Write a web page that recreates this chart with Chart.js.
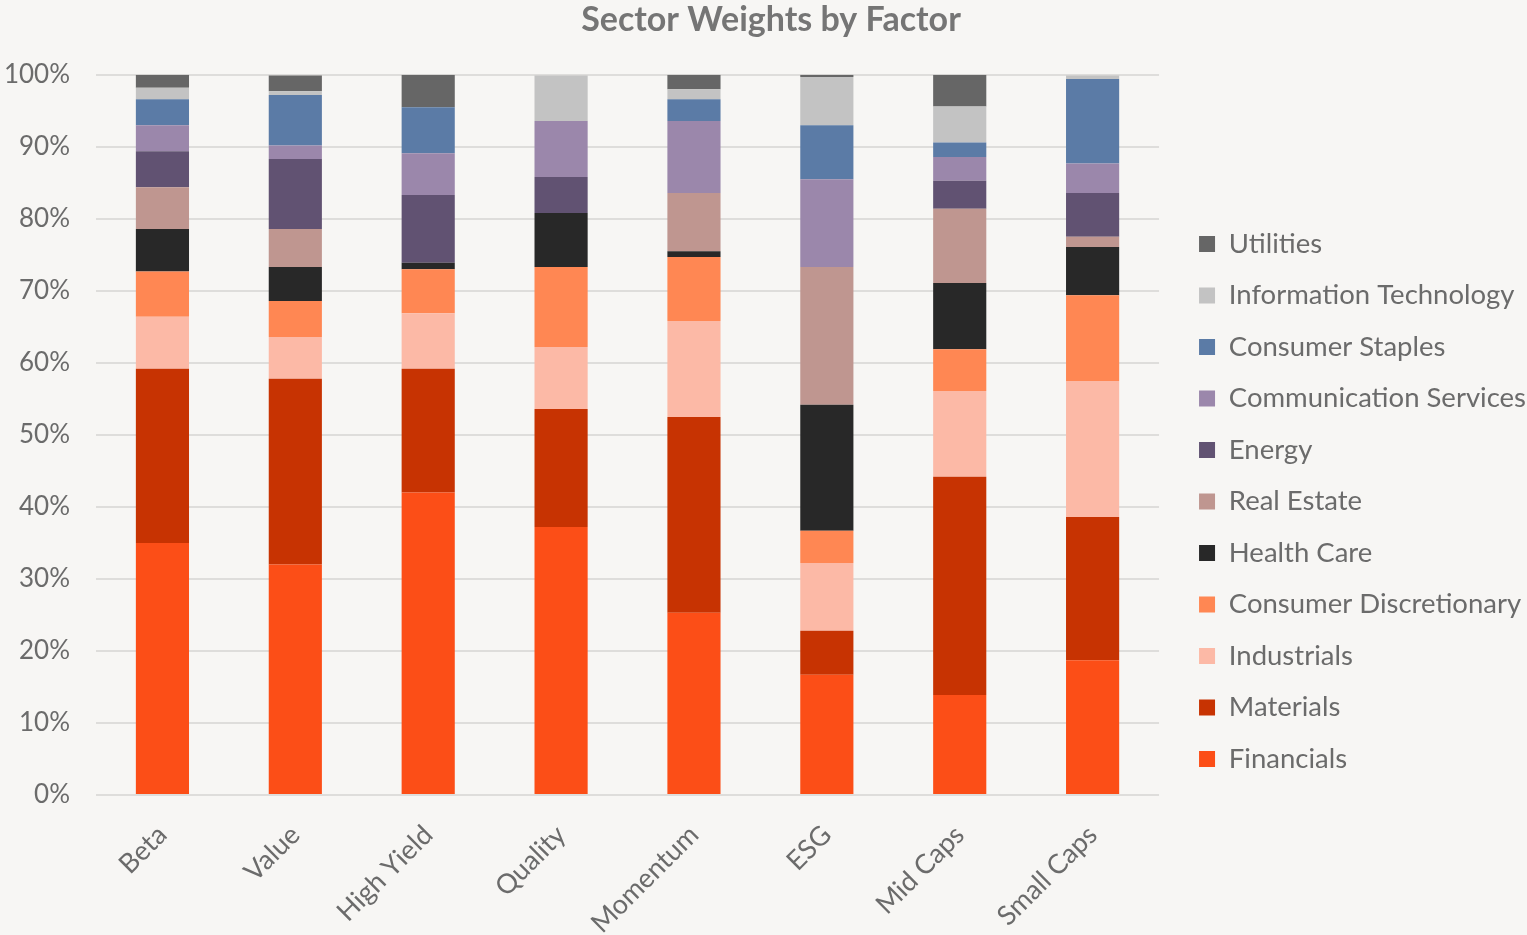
<!DOCTYPE html>
<html>
<head>
<meta charset="utf-8">
<title>Sector Weights by Factor</title>
<script src="https://cdn.jsdelivr.net/npm/chart.js@4/dist/chart.umd.min.js"></script>
<style>
  html, body { margin: 0; padding: 0; background: #f7f6f4; }
  #wrap { width: 1527px; height: 935px; position: relative; }
</style>
</head>
<body>
<div id="wrap"><canvas id="sectorWeights"></canvas></div>
<script>
// factors on the x axis
const factors = ["Beta", "Value", "High Yield", "Quality", "Momentum", "ESG", "Mid Caps", "Small Caps"];

// sector weights in %, bottom of the stack first
const financials    = [35.0, 32.0, 42.0, 37.2, 25.3, 16.7, 13.9, 18.7];
const materials     = [24.2, 25.8, 17.2, 16.4, 27.2,  6.1, 30.3, 19.9];
const industrials   = [ 7.2,  5.8,  7.7,  8.6, 13.3,  9.4, 11.9, 18.9];
const consDiscr     = [ 6.3,  5.0,  6.1, 11.1,  8.9,  4.5,  5.8, 11.9];
const healthCare    = [ 5.9,  4.7,  0.9,  7.5,  0.8, 17.5,  9.2,  6.7];
const realEstate    = [ 5.8,  5.3,  0.0,  0.0,  8.1, 19.1, 10.3,  1.4];
const energy        = [ 5.0,  9.7,  9.4,  5.0,  0.0,  0.0,  3.9,  6.1];
const commServices  = [ 3.6,  1.9,  5.8,  7.8, 10.0, 12.2,  3.3,  4.1];
const consStaples   = [ 3.6,  7.0,  6.4,  0.0,  3.0,  7.5,  2.0, 11.7];
const infoTech      = [ 1.6,  0.5,  0.0,  6.3,  1.4,  6.7,  5.0,  0.5];
const utilities     = [ 1.8,  2.2,  4.5,  0.0,  2.0,  0.3,  4.4,  0.0];

const yTicks = [0, 10, 20, 30, 40, 50, 60, 70, 80, 90, 100];

const textColor = "#6b6b6b";
const fontFamily = "Lato, 'Open Sans', sans-serif";

function makeSet(label, data, color){
    return {
        label: label,
        data: data,
        backgroundColor: color,
        borderWidth: 0,
        categoryPercentage: 1.0,
        barPercentage: 0.4
    };
}

let datasets = [
    makeSet("Financials", financials, "#fc4e17"),
    makeSet("Materials", materials, "#c73302"),
    makeSet("Industrials", industrials, "#fcb9a6"),
    makeSet("Consumer Discretionary", consDiscr, "#ff8753"),
    makeSet("Health Care", healthCare, "#282828"),
    makeSet("Real Estate", realEstate, "#bf9690"),
    makeSet("Energy", energy, "#615272"),
    makeSet("Communication Services", commServices, "#9b87ab"),
    makeSet("Consumer Staples", consStaples, "#5b7ba6"),
    makeSet("Information Technology", infoTech, "#c3c3c3"),
    makeSet("Utilities", utilities, "#666666")
];

let ctx = document.getElementById("sectorWeights").getContext("2d");

new Chart(ctx, {
    type: "bar",
    data: { labels: factors, datasets: datasets },
    options: {
        responsive: true,
        maintainAspectRatio: false,
        animation: false,
        layout: { padding: { left: 6, right: -9, top: 0, bottom: 0 } },
        plugins: {
            title: {
                display: true,
                text: "Sector Weights by Factor",
                color: "#757575",
                font: { family: fontFamily, size: 34, weight: "bold" },
                padding: { top: 0, bottom: 34 }
            },
            legend: {
                display: true,
                position: "right",
                reverse: true,
                maxWidth: 420,
                title: {
                    // empty title only used to push the legend items down a bit
                    display: true,
                    text: " ",
                    font: { size: 10 },
                    padding: { top: 28, bottom: 28 }
                },
                labels: {
                    boxWidth: 16,
                    boxHeight: 16,
                    padding: 24,
                    color: textColor,
                    font: { family: fontFamily, size: 27.5 }
                }
            },
            tooltip: { enabled: false }
        },
        scales: {
            x: {
                stacked: true,
                grid: { display: false, drawTicks: false },
                border: { display: false },
                afterFit: function(scale){
                    scale.height = 140;
                },
                ticks: {
                    color: textColor,
                    font: { family: fontFamily, size: 27 },
                    minRotation: 45,
                    maxRotation: 45,
                    padding: 24
                }
            },
            y: {
                stacked: true,
                min: 0,
                max: 100,
                afterBuildTicks: function(axis){
                    axis.ticks = yTicks.map(v => ({ value: v }));
                },
                afterFit: function(scale){
                    scale.width = 90;
                },
                grid: { color: "#dedddb", lineWidth: 2, drawTicks: false },
                border: { display: false },
                ticks: {
                    color: textColor,
                    font: { family: fontFamily, size: 26 },
                    padding: 26,
                    callback: function(v){ return v + "%"; }
                }
            },
            // empty spacer between the plot and the legend
            gap: {
                position: "right",
                display: true,
                grid: { display: false, drawTicks: false },
                border: { display: false },
                ticks: { display: false },
                afterFit: function(scale){
                    scale.width = 16;
                }
            }
        }
    }
});
</script>
</body>
</html>
